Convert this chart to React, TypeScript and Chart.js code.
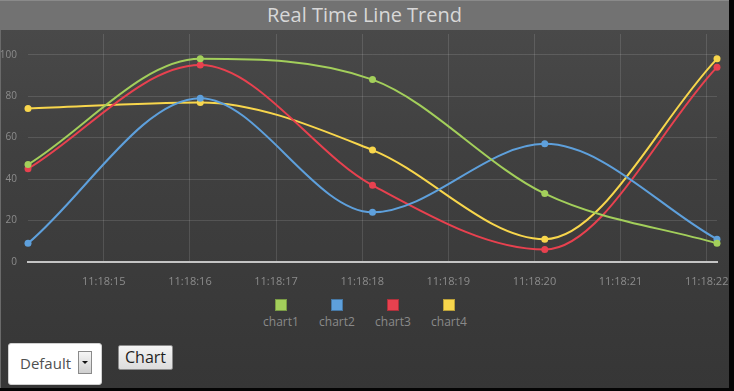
import React, { useEffect, useRef } from 'react';
import { Chart, registerables } from 'chart.js';

Chart.register(...registerables);

// ---- data ----
const seriesNames = ['chart1', 'chart2', 'chart3', 'chart4'];
const seriesColors = ['#a3cf5b', '#5ea0dc', '#e8414f', '#f8d64c'];
const sampleTimes = [14.12, 16.12, 18.12, 20.12, 22.12]; // seconds after 11:18:00
const chart1 = [47, 98, 88, 33, 9];
const chart2 = [9, 79, 24, 57, 11];
const chart3 = [45, 95, 37, 6, 94];
const chart4 = [74, 77, 54, 11, 98];
const xTickValues = [15, 16, 17, 18, 19, 20, 21, 22];
const xTickLabels = ['11:18:15', '11:18:16', '11:18:17', '11:18:18', '11:18:19', '11:18:20', '11:18:21', '11:18:22'];
const yTickValues = [0, 20, 40, 60, 80, 100];
const titleText = 'Real Time Line Trend';
const selectText = 'Default';
const buttonText = 'Chart';

const seriesValues = [chart1, chart2, chart3, chart4];

export default function App() {
  const canvasRef = useRef<HTMLCanvasElement | null>(null);

  useEffect(() => {
    const canvas = canvasRef.current;
    if (!canvas) return;
    const chart = new Chart(canvas, {
      type: 'line',
      data: {
        datasets: seriesNames.map((name, i) => ({
          label: name,
          data: sampleTimes.map((t, j) => ({ x: t, y: seriesValues[i][j] })),
          borderColor: seriesColors[i],
          backgroundColor: seriesColors[i],
          pointBackgroundColor: seriesColors[i],
          pointBorderWidth: 0,
          pointRadius: 3.5,
          borderWidth: 2,
          tension: 0.4,
          cubicInterpolationMode: 'monotone' as const,
          fill: false,
          clip: false as any,
        })),
      },
      options: {
        responsive: false,
        maintainAspectRatio: false,
        animation: false,
        devicePixelRatio: 1,
        layout: { padding: { top: 1, left: 0, right: 12, bottom: 0 } },
        plugins: {
          legend: { display: false },
          title: { display: false },
          tooltip: { enabled: false },
        },
        scales: {
          x: {
            type: 'linear',
            min: sampleTimes[0],
            max: sampleTimes[sampleTimes.length - 1],
            afterBuildTicks: (scale: any) => {
              scale.ticks = xTickValues.map((v) => ({ value: v }));
            },
            afterFit: (scale: any) => {
              scale.height = 30;
              scale.paddingLeft = 0;
              scale.paddingRight = 0;
            },
            ticks: {
              autoSkip: false,
              maxRotation: 0,
              padding: 13,
              color: '#8c8c8c',
              font: { family: 'Open Sans', size: 11 },
              callback: (value: any) => {
                const i = xTickValues.indexOf(Number(value));
                return i >= 0 ? xTickLabels[i] : '';
              },
            },
            grid: { color: 'rgba(255,255,255,0.12)', lineWidth: 1, drawTicks: false },
            border: { display: true, color: '#c4c4c4', width: 2 },
          },
          y: {
            type: 'linear',
            min: 0,
            max: 110,
            afterBuildTicks: (scale: any) => {
              scale.ticks = yTickValues.map((v) => ({ value: v }));
            },
            afterFit: (scale: any) => {
              scale.width = 28;
              scale.paddingTop = 0;
              scale.paddingBottom = 0;
            },
            ticks: {
              padding: 11,
              color: '#8c8c8c',
              font: { family: 'Open Sans', size: 10 },
              callback: (value: any) => String(value),
            },
            grid: {
              color: (ctx: any) => (ctx.tick && ctx.tick.value === 0 ? 'rgba(0,0,0,0)' : 'rgba(255,255,255,0.12)'),
              lineWidth: 1,
              drawTicks: false,
            },
            border: { display: false },
          },
        },
      },
    });
    return () => chart.destroy();
  }, []);

  const legendCenters = [281, 337, 393, 449];

  return (
    <div style={{ position: 'absolute', left: 0, top: 0, width: 734, height: 391, background: '#050505', overflow: 'hidden' }}>
      <div
        style={{
          position: 'absolute',
          left: 0,
          top: 0,
          width: 729,
          height: 388,
          background: 'linear-gradient(180deg, #4b4b4b 0%, #404040 40%, #363636 100%)',
          borderLeft: '1px solid #6a6a6a',
          boxSizing: 'border-box',
        }}
      />
      <div
        style={{
          position: 'absolute',
          left: 0,
          top: 0,
          width: 729,
          height: 30,
          background: '#727272',
          borderTop: '1px solid #8a8a8a',
          boxSizing: 'border-box',
          color: '#d8d8d8',
          fontFamily: 'Open Sans',
          fontSize: 20,
          lineHeight: '28px',
          textAlign: 'center',
        }}
      >
        {titleText}
      </div>
      <canvas ref={canvasRef} width={729} height={262} style={{ position: 'absolute', left: 0, top: 30, width: 729, height: 262 }} />
      {seriesNames.map((name, i) => (
        <div key={name} style={{ position: 'absolute', left: legendCenters[i] - 28, top: 299, width: 56, textAlign: 'center' }}>
          <div
            style={{
              width: 12,
              height: 12,
              margin: '0 auto',
              background: seriesColors[i],
              border: '1px solid rgba(0,0,0,0.25)',
              boxSizing: 'border-box',
            }}
          />
          <div style={{ fontFamily: 'Open Sans', fontSize: 12, color: '#8a8a8a', lineHeight: '16px', marginTop: 3 }}>{name}</div>
        </div>
      ))}
      <div
        style={{
          position: 'absolute',
          left: 8,
          top: 343,
          width: 94,
          height: 42,
          background: '#ffffff',
          border: '1px solid #d0d0d0',
          borderRadius: 3,
          boxSizing: 'border-box',
        }}
      >
        <div style={{ position: 'absolute', left: 11, top: 0, lineHeight: '39px', fontFamily: 'Open Sans', fontSize: 15, color: '#505050' }}>
          {selectText}
        </div>
        <div
          style={{
            position: 'absolute',
            left: 69,
            top: 7,
            width: 14,
            height: 23,
            border: '1px solid #8a8a8a',
            boxSizing: 'border-box',
            background: 'linear-gradient(180deg, #f6f6f6, #cfcfcf)',
          }}
        >
          <div
            style={{
              position: 'absolute',
              left: 3,
              top: 9,
              width: 0,
              height: 0,
              borderLeft: '3px solid transparent',
              borderRight: '3px solid transparent',
              borderTop: '3px solid #111',
            }}
          />
        </div>
      </div>
      <div
        style={{
          position: 'absolute',
          left: 118,
          top: 345,
          width: 55,
          height: 25,
          background: 'linear-gradient(180deg, #f4f4f4, #dcdcdc)',
          border: '1px solid #8c8c8c',
          borderRadius: 2,
          boxSizing: 'border-box',
          fontFamily: 'Open Sans',
          fontSize: 16,
          color: '#1e1e1e',
          textAlign: 'center',
          lineHeight: '22px',
        }}
      >
        {buttonText}
      </div>
    </div>
  );
}
